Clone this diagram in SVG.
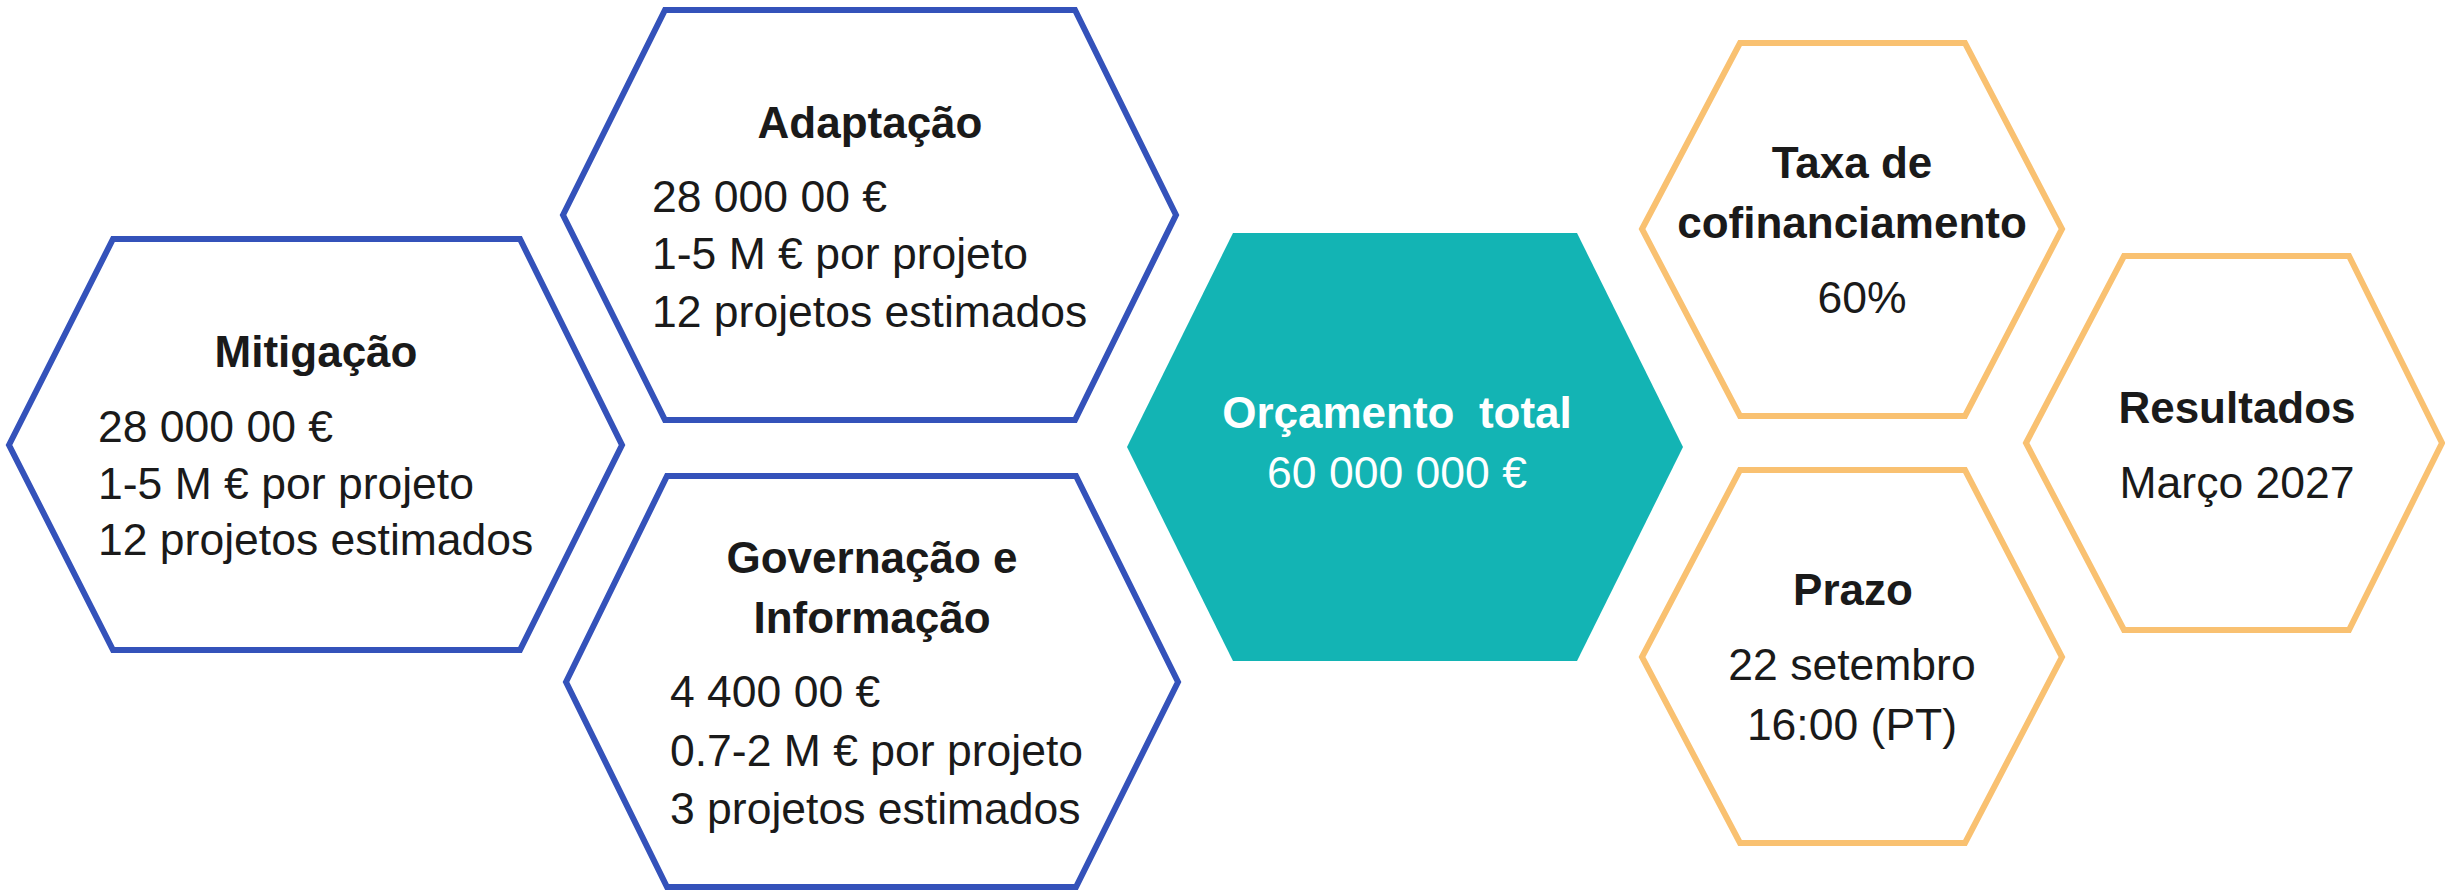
<svg xmlns="http://www.w3.org/2000/svg" width="2445" height="893" viewBox="0 0 2445 893">
<style>
.blue{fill:#ffffff;stroke:#3452BA;stroke-width:6;stroke-linejoin:miter}
.orange{fill:#ffffff;stroke:#F9C171;stroke-width:6;stroke-linejoin:miter}
.teal{fill:#13B4B4;stroke:none}
.t{font-family:"Liberation Sans",Arial,sans-serif;font-size:44px;font-weight:bold;fill:#1a1a1a;text-anchor:middle}
.b{font-family:"Liberation Sans",Arial,sans-serif;font-size:44.5px;fill:#1a1a1a}
.c{text-anchor:middle}
.w{fill:#ffffff}
</style>
<rect width="2445" height="893" fill="#ffffff"/>
<g id="connectors"></g>
<g id="mitigacao">
<polygon class="blue" points="9,445 113,239 520,239 622,445 520,650 113,650"/>
<text class="t" x="316" y="367">Mitigação</text>
<text class="b" x="98" y="442">28 000 00 €</text>
<text class="b" x="98" y="499">1-5 M € por projeto</text>
<text class="b" x="98" y="555">12 projetos estimados</text>
</g>
<g id="adaptacao">
<polygon class="blue" points="563,215 665,10 1075,10 1176,215 1075,420 665,420"/>
<text class="t" x="870" y="138">Adaptação</text>
<text class="b" x="652" y="212">28 000 00 €</text>
<text class="b" x="652" y="269">1-5 M € por projeto</text>
<text class="b" x="652" y="327">12 projetos estimados</text>
</g>
<g id="governacao">
<polygon class="blue" points="566,682 667,476 1076,476 1178,682 1076,887 667,887"/>
<text class="t" x="872" y="573">Governação e</text>
<text class="t" x="872" y="633">Informação</text>
<text class="b" x="670" y="707">4 400 00 €</text>
<text class="b" x="670" y="766">0.7-2 M € por projeto</text>
<text class="b" x="670" y="824">3 projetos estimados</text>
</g>
<g id="orcamento">
<polygon class="teal" points="1127,447 1233,233 1577,233 1683,447 1577,661 1233,661"/>
<text class="t w" x="1397" y="428" xml:space="preserve">Orçamento  total</text>
<text class="b c w" x="1397" y="488">60 000 000 €</text>
</g>
<g id="taxa">
<polygon class="orange" points="1642,229 1740,43 1965,43 2062,229 1965,416 1740,416"/>
<text class="t" x="1852" y="178">Taxa de</text>
<text class="t" x="1852" y="238">cofinanciamento</text>
<text class="b c" x="1862" y="313">60%</text>
</g>
<g id="prazo">
<polygon class="orange" points="1642,657 1740,470 1965,470 2062,657 1965,843 1740,843"/>
<text class="t" x="1853" y="605">Prazo</text>
<text class="b c" x="1852" y="680">22 setembro</text>
<text class="b c" x="1852" y="740">16:00 (PT)</text>
</g>
<g id="resultados">
<polygon class="orange" points="2026,443 2124,256 2349,256 2442,443 2349,630 2124,630"/>
<text class="t" x="2237" y="423">Resultados</text>
<text class="b c" x="2237" y="498">Março 2027</text>
</g>
</svg>
